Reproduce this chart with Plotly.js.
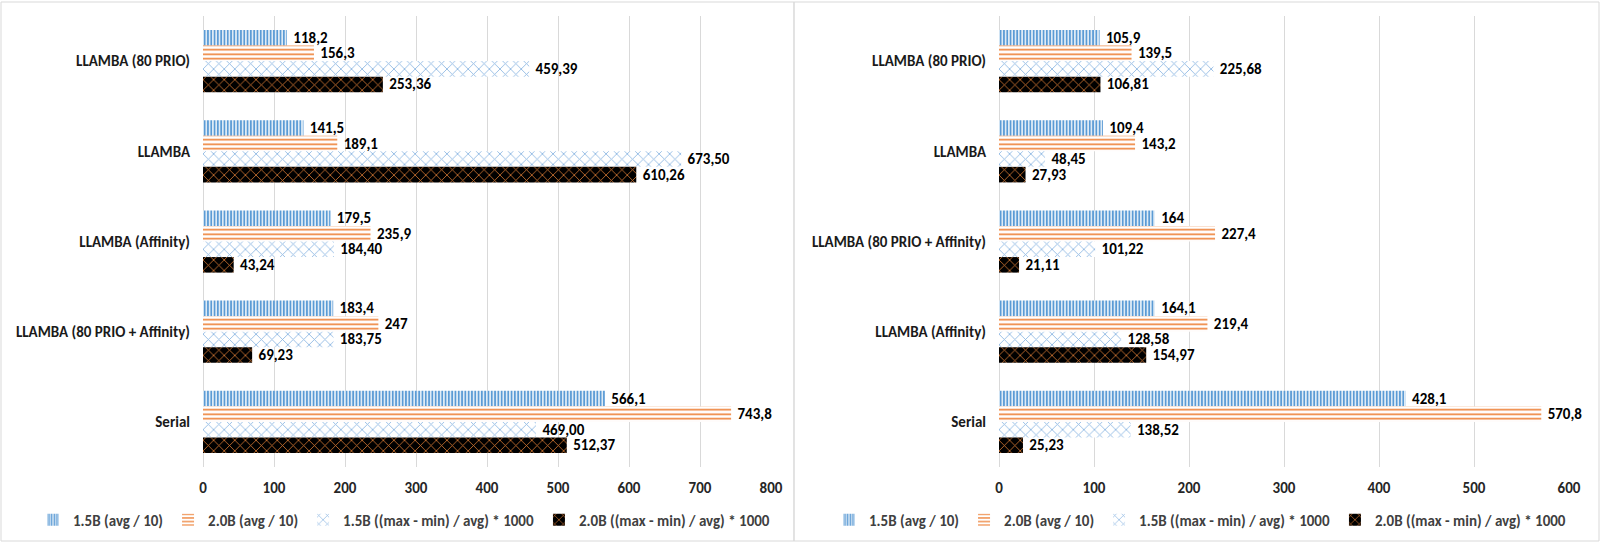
<!DOCTYPE html>
<html><head><meta charset="utf-8">
<script src="https://cdn.plot.ly/plotly-3.0.1.min.js"></script>
<style>html,body{margin:0;padding:0;background:#fff}#chart{width:1600px;height:544px}</style>
</head><body><div id="chart"></div>
<script>
const seriesNames = ['1.5B (avg / 10)', '2.0B (avg / 10)', '1.5B ((max - min) / avg) * 1000', '2.0B ((max - min) / avg) * 1000'];

const leftCategories = ['LLAMBA (80 PRIO)', 'LLAMBA', 'LLAMBA (Affinity)', 'LLAMBA (80 PRIO + Affinity)', 'Serial'];
const leftAvg15 = [118.2, 141.5, 179.5, 183.4, 566.1];
const leftAvg20 = [156.3, 189.1, 235.9, 247, 743.8];
const leftVar15 = [459.39, 673.50, 184.40, 183.75, 469.00];
const leftVar20 = [253.36, 610.26, 43.24, 69.23, 512.37];
const leftTicks = [0, 100, 200, 300, 400, 500, 600, 700, 800];

const rightCategories = ['LLAMBA (80 PRIO)', 'LLAMBA', 'LLAMBA (80 PRIO + Affinity)', 'LLAMBA (Affinity)', 'Serial'];
const rightAvg15 = [105.9, 109.4, 164, 164.1, 428.1];
const rightAvg20 = [139.5, 143.2, 227.4, 219.4, 570.8];
const rightVar15 = [225.68, 48.45, 101.22, 128.58, 138.52];
const rightVar20 = [106.81, 27.93, 21.11, 154.97, 25.23];
const rightTicks = [0, 100, 200, 300, 400, 500, 600];

const FONT = "Carlito, Calibri, Lato, 'Open Sans', sans-serif";
const W = 1600, H = 544;

const patterns = [
  {shape: '|', fgcolor: '#5B9BD5', bgcolor: '#ffffff', size: 3.3, solidity: 0.6},
  {shape: '-', fgcolor: '#ED7D31', bgcolor: '#ffffff', size: 4.5, solidity: 0.35},
  {shape: 'x', fgcolor: '#8DB7E2', bgcolor: '#ffffff', size: 7.5, solidity: 0.22},
  {shape: 'x', fgcolor: '#D97B35', bgcolor: '#000000', size: 7.5, solidity: 0.2}
];
const fmtAvg = v => ' ' + String(v).replace('.', ',');
const fmtVar = v => ' ' + v.toFixed(2).replace('.', ',');
const formatters = [fmtAvg, fmtAvg, fmtVar, fmtVar];

function makeTraces(cats, seriesList, xa, ya, legendId) {
  return seriesList.map((vals, i) => ({
    type: 'bar', orientation: 'h',
    name: seriesNames[i],
    y: cats, x: vals,
    xaxis: xa, yaxis: ya, legend: legendId,
    marker: {color: '#ffffff', line: {width: 0}, pattern: patterns[i]},
    text: vals.map(formatters[i]),
    textposition: 'outside', constraintext: 'none', cliponaxis: false,
    textfont: {family: FONT, size: 15, color: '#000000', weight: 'bold'},
    hoverinfo: 'x+name'
  }));
}

const data = [
  ...makeTraces(leftCategories, [leftAvg15, leftAvg20, leftVar15, leftVar20], 'x', 'y', 'legend'),
  ...makeTraces(rightCategories, [rightAvg15, rightAvg20, rightVar15, rightVar20], 'x2', 'y2', 'legend2')
];

const yDomain = [1 - 467 / H, 1 - 16 / H];
const xAxisCommon = {
  showgrid: true, gridcolor: '#d9d9d9', gridwidth: 1,
  zeroline: true, zerolinecolor: '#d9d9d9', zerolinewidth: 1,
  showline: false, ticks: '', ticklabelstandoff: 10, automargin: false,
  tickfont: {family: FONT, size: 15, color: '#262626', weight: 'bold'},
  fixedrange: true
};
const yAxisCommon = {
  type: 'category', autorange: 'reversed', showgrid: false, zeroline: false,
  showline: false, ticks: '', ticklabelstandoff: 12, automargin: false,
  tickfont: {family: FONT, size: 15, color: '#1a1a1a', weight: 'bold'},
  domain: yDomain, fixedrange: true
};
const legendCommon = {
  orientation: 'h', xanchor: 'center', yanchor: 'middle', y: 1 - 520 / H,
  xref: 'paper', yref: 'paper', itemwidth: 30,
  font: {family: FONT, size: 15, color: '#404040', weight: 'bold'},
  bgcolor: 'rgba(0,0,0,0)', traceorder: 'normal', itemclick: false, itemdoubleclick: false
};

const layout = {
  width: W, height: H,
  margin: {l: 0, r: 0, t: 0, b: 0, autoexpand: false},
  paper_bgcolor: '#ffffff', plot_bgcolor: '#ffffff',
  barmode: 'group', bargap: 0.31, bargroupgap: 0,
  showlegend: true,
  xaxis: Object.assign({}, xAxisCommon, {domain: [203 / W, 771 / W], anchor: 'y', range: [0, 800], tickvals: leftTicks}),
  yaxis: Object.assign({}, yAxisCommon, {anchor: 'x', categoryarray: leftCategories, categoryorder: 'array'}),
  xaxis2: Object.assign({}, xAxisCommon, {domain: [999 / W, 1569 / W], anchor: 'y2', range: [0, 600], tickvals: rightTicks}),
  yaxis2: Object.assign({}, yAxisCommon, {anchor: 'x2', categoryarray: rightCategories, categoryorder: 'array'}),
  legend: Object.assign({}, legendCommon, {x: 404 / W}),
  legend2: Object.assign({}, legendCommon, {x: 1200 / W}),
  shapes: [
    {type: 'rect', xref: 'paper', yref: 'paper', x0: 1 / W, x1: 794 / W, y0: 1 - 541 / H, y1: 1 - 2 / H,
     line: {color: '#d9d9d9', width: 1}, fillcolor: 'rgba(0,0,0,0)', layer: 'below'},
    {type: 'rect', xref: 'paper', yref: 'paper', x0: 794 / W, x1: 1599 / W, y0: 1 - 541 / H, y1: 1 - 2 / H,
     line: {color: '#d9d9d9', width: 1}, fillcolor: 'rgba(0,0,0,0)', layer: 'below'}
  ]
};

Plotly.newPlot('chart', data, layout, {displayModeBar: false, staticPlot: true});
</script>
</body></html>
